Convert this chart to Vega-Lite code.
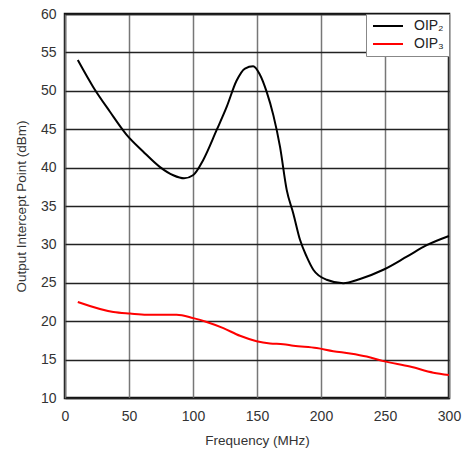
{
  "$schema": "https://vega.github.io/schema/vega-lite/v6.json",
  "width": 384,
  "height": 384,
  "autosize": {"type": "none"},
  "padding": {"left": 65, "top": 14, "right": 16, "bottom": 53},
  "background": "white",
  "config": {
    "font": "Liberation Sans",
    "view": {"stroke": "#111", "strokeWidth": 2.5},
    "axis": {
      "labelFont": "Liberation Sans",
      "titleFont": "Liberation Sans",
      "labelFontSize": 14,
      "titleFontSize": 13.5,
      "titleFontWeight": "normal",
      "labelColor": "#333",
      "titleColor": "#333",
      "ticks": false,
      "domain": false,
      "labelFlush": false,
      "gridOpacity": 1
    }
  },
  "data": {
    "values": [
      {"s": "OIP₂", "f": 10, "v": 54.0},
      {"s": "OIP₂", "f": 22, "v": 50.5},
      {"s": "OIP₂", "f": 35, "v": 47.3},
      {"s": "OIP₂", "f": 48, "v": 44.3},
      {"s": "OIP₂", "f": 61, "v": 42.1},
      {"s": "OIP₂", "f": 74, "v": 40.1},
      {"s": "OIP₂", "f": 84.6, "v": 39.0},
      {"s": "OIP₂", "f": 93, "v": 38.6},
      {"s": "OIP₂", "f": 100, "v": 39.0},
      {"s": "OIP₂", "f": 108, "v": 41.0},
      {"s": "OIP₂", "f": 118.5, "v": 44.9},
      {"s": "OIP₂", "f": 126.3, "v": 47.9},
      {"s": "OIP₂", "f": 134, "v": 51.3},
      {"s": "OIP₂", "f": 140.6, "v": 52.9},
      {"s": "OIP₂", "f": 147, "v": 53.2},
      {"s": "OIP₂", "f": 152, "v": 52.2},
      {"s": "OIP₂", "f": 157.5, "v": 49.9},
      {"s": "OIP₂", "f": 162.8, "v": 46.8},
      {"s": "OIP₂", "f": 168, "v": 42.7},
      {"s": "OIP₂", "f": 173.2, "v": 37.1},
      {"s": "OIP₂", "f": 178.4, "v": 34.0},
      {"s": "OIP₂", "f": 183.6, "v": 30.6},
      {"s": "OIP₂", "f": 188.8, "v": 28.4},
      {"s": "OIP₂", "f": 194, "v": 26.7},
      {"s": "OIP₂", "f": 204.4, "v": 25.4},
      {"s": "OIP₂", "f": 217.4, "v": 24.95},
      {"s": "OIP₂", "f": 230.5, "v": 25.5},
      {"s": "OIP₂", "f": 248.7, "v": 26.7},
      {"s": "OIP₂", "f": 267, "v": 28.4},
      {"s": "OIP₂", "f": 282.6, "v": 29.9},
      {"s": "OIP₂", "f": 300, "v": 31.1},
      {"s": "OIP₃", "f": 10, "v": 22.5},
      {"s": "OIP₃", "f": 37.8, "v": 21.2},
      {"s": "OIP₃", "f": 50.8, "v": 21.0},
      {"s": "OIP₃", "f": 63.8, "v": 20.85},
      {"s": "OIP₃", "f": 87.2, "v": 20.85},
      {"s": "OIP₃", "f": 100.2, "v": 20.4},
      {"s": "OIP₃", "f": 110.7, "v": 19.9},
      {"s": "OIP₃", "f": 123.7, "v": 19.1},
      {"s": "OIP₃", "f": 136.7, "v": 18.1},
      {"s": "OIP₃", "f": 149.7, "v": 17.4},
      {"s": "OIP₃", "f": 160.2, "v": 17.1},
      {"s": "OIP₃", "f": 170.5, "v": 17.0},
      {"s": "OIP₃", "f": 178.4, "v": 16.8},
      {"s": "OIP₃", "f": 196.6, "v": 16.5},
      {"s": "OIP₃", "f": 209.6, "v": 16.1},
      {"s": "OIP₃", "f": 222.7, "v": 15.8},
      {"s": "OIP₃", "f": 235.7, "v": 15.4},
      {"s": "OIP₃", "f": 248.7, "v": 14.8},
      {"s": "OIP₃", "f": 269.5, "v": 14.1},
      {"s": "OIP₃", "f": 287.8, "v": 13.3},
      {"s": "OIP₃", "f": 300, "v": 13.0}
    ]
  },
  "mark": {"type": "line", "strokeWidth": 2, "interpolate": "monotone"},
  "encoding": {
    "x": {
      "field": "f", "type": "quantitative",
      "scale": {"domain": [0, 300], "nice": false},
      "axis": {"values": [0, 50, 100, 150, 200, 250, 300], "title": "Frequency (MHz)", "labelPadding": 11, "titlePadding": 10, "gridColor": "#777", "gridWidth": 1.5}
    },
    "y": {
      "field": "v", "type": "quantitative",
      "scale": {"domain": [10, 60], "nice": false, "zero": false},
      "axis": {"values": [10, 15, 20, 25, 30, 35, 40, 45, 50, 55, 60], "title": "Output Intercept Point (dBm)", "labelPadding": 9, "titlePadding": 12, "gridColor": "#222", "gridWidth": 1.3}
    },
    "color": {
      "field": "s", "type": "nominal",
      "scale": {"domain": ["OIP₂", "OIP₃"], "range": ["#000000", "#ff0000"]},
      "legend": {
        "title": null,
        "orient": "top-right",
        "offset": 0,
        "fillColor": "white",
        "strokeColor": "#888",
        "padding": 5,
        "symbolType": "M-3,0H3",
        "symbolSize": 100,
        "symbolOffset": 10,
        "symbolStrokeWidth": 2,
        "labelFontSize": 14,
        "labelColor": "#222",
        "labelOffset": 19,
        "rowPadding": 4
      }
    }
  }
}
